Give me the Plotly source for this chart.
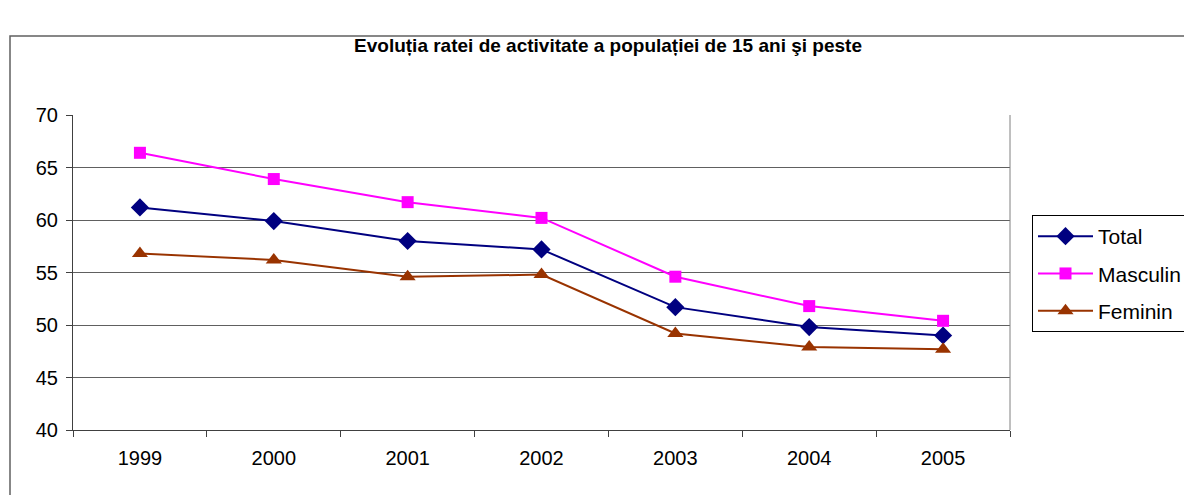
import plotly.graph_objects as go

years = ["1999", "2000", "2001", "2002", "2003", "2004", "2005"]
total = [61.2, 59.9, 58.0, 57.2, 51.7, 49.8, 49.0]
masculin = [66.4, 63.9, 61.7, 60.2, 54.6, 51.8, 50.4]
feminin = [56.8, 56.2, 54.6, 54.8, 49.2, 47.9, 47.7]
yticks = [40, 45, 50, 55, 60, 65, 70]

title = "Evoluția ratei de activitate a populației de 15 ani şi peste"

W, H = 1184, 495
L, R, T, B = 73, 174, 115, 65
pw = W - L - R
ph = H - T - B

def px_x(p):
    return (p - L) / pw

def px_y(p):
    return (H - B - p) / ph

fig = go.Figure()
fig.add_trace(go.Scatter(x=years, y=total, name="Total", mode="lines+markers",
                         legendgroup="t",
                         line=dict(color="#000080", width=2),
                         marker=dict(symbol="diamond", size=14, color="#000080")))
fig.add_trace(go.Scatter(x=years, y=masculin, name="Masculin", mode="lines+markers",
                         legendgroup="m",
                         line=dict(color="#FF00FF", width=2),
                         marker=dict(symbol="square", size=12, color="#FF00FF")))
fig.add_trace(go.Scatter(x=years, y=feminin, name="Feminin", mode="lines+markers",
                         legendgroup="f",
                         line=dict(color="#993300", width=2),
                         marker=dict(symbol="triangle-up", size=14, color="#993300")))

fig.update_layout(
    width=W, height=H,
    margin=dict(l=L, r=R, t=T, b=B, pad=0, autoexpand=False),
    paper_bgcolor="white", plot_bgcolor="white",
    font=dict(family="Liberation Sans, Arial", color="black", size=20),
    title=dict(text="<b>" + title + "</b>", x=px_x(608), xref="paper", xanchor="center",
               y=1 - 45 / H, yanchor="middle", font=dict(size=19, color="black")),
    showlegend=True,
    legend=dict(x=px_x(1032), y=px_y(215), xanchor="left", yanchor="top",
                bordercolor="black", borderwidth=1, bgcolor="white",
                font=dict(size=21), itemwidth=55, tracegroupgap=7,
                traceorder="grouped"),
    xaxis=dict(type="category", range=[-0.5, 6.5], tickson="boundaries",
               ticks="outside", ticklen=6, tickcolor="#404040",
               showline=True, linecolor="#404040", linewidth=1,
               showgrid=False, zeroline=False, tickfont=dict(size=20),
               ticklabelstandoff=10),
    yaxis=dict(range=[40, 70], tickvals=yticks, ticks="outside", ticklen=6,
               tickcolor="#404040", showline=True, linecolor="#404040", linewidth=1,
               showgrid=True, gridcolor="#606060", gridwidth=1, zeroline=False,
               tickfont=dict(size=20), ticklabelstandoff=4),
    shapes=[
        dict(type="line", xref="paper", yref="paper", x0=1, x1=1, y0=0, y1=1,
             line=dict(color="#808080", width=1)),
        dict(type="rect", xref="paper", yref="paper",
             x0=px_x(10), x1=px_x(1195), y0=px_y(36), y1=px_y(505),
             line=dict(color="#606060", width=1.5), layer="below"),
    ],
)

fig.write_html("out.html", config={"displayModeBar": False},
               post_script="document.body.style.margin='0';document.body.style.overflow='hidden';")
